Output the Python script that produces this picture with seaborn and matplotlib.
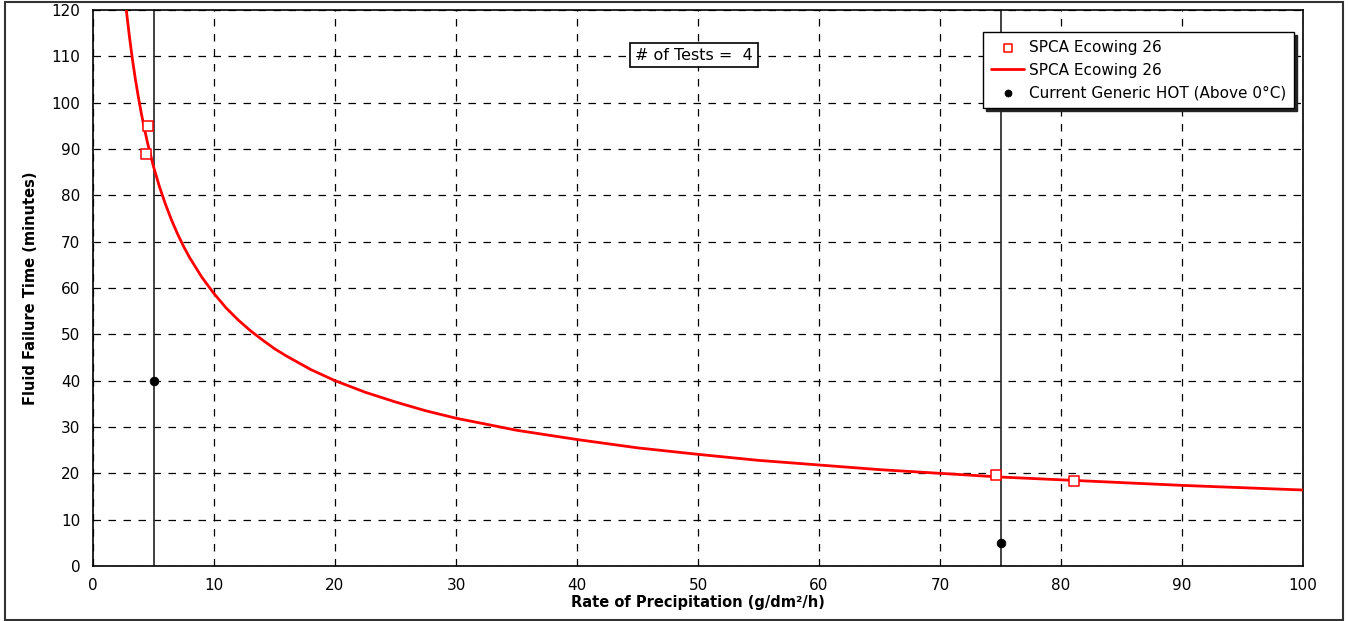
import matplotlib
matplotlib.use("Agg")
import matplotlib.pyplot as plt
import seaborn as sns
import pandas as pd
from matplotlib.patches import Rectangle

# trend curve, values
curve_x = [2.6, 2.8, 3, 3.25, 3.5, 3.75, 4, 4.25, 4.5, 5, 5.5, 6, 6.5, 7, 7.5, 8,
           9, 10, 11, 12, 13, 14, 15, 16, 18, 20, 22.5, 25, 27.5, 30, 35, 40,
           45, 50, 55, 60, 65, 70, 75, 80, 85, 90, 95, 100]
curve_y = [123.9, 118.9, 114.5, 109.5, 105.1, 101.2, 97.6, 94.4, 91.4, 86.2,
           81.8, 78.0, 74.6, 71.6, 68.9, 66.5, 62.3, 58.8, 55.7, 53.1, 50.8,
           48.8, 46.9, 45.3, 42.4, 40.0, 37.5, 35.4, 33.5, 31.9, 29.3, 27.3,
           25.5, 24.1, 22.8, 21.8, 20.8, 20.0, 19.2, 18.6, 18.0, 17.4, 16.9, 16.4]

# test points
test_x = [4.55, 4.4, 74.6, 81.1]
test_y = [95.0, 89.0, 19.6, 18.3]

# current generic HOT
hot_x = [5, 75]
hot_y = [40, 5]

n_tests = 4

sns.set_style("white")
plt.rcParams['font.family'] = ['DejaVu Sans']
plt.rcParams['text.color'] = 'black'
plt.rcParams['axes.labelcolor'] = 'black'
plt.rcParams['xtick.color'] = 'black'
plt.rcParams['ytick.color'] = 'black'

fig = plt.figure(figsize=(13.48, 6.21), dpi=100)
ax = fig.add_axes([93 / 1348, 1 - 566 / 621, 1210 / 1348, 556 / 621])

# vertical reference lines
for xv in hot_x:
    ax.axvline(xv, color='#333333', lw=1.3, zorder=2)

ax.grid(True, color='black', lw=0.9, linestyle=(0, (6, 6)), zorder=1)
ax.set_axisbelow(True)

curve = pd.DataFrame({'x': curve_x, 'y': curve_y})
tests = pd.DataFrame({'x': test_x, 'y': test_y})
hot = pd.DataFrame({'x': hot_x, 'y': hot_y})

sns.scatterplot(data=tests, x='x', y='y', ax=ax, marker='s', s=55,
                facecolor='white', edgecolor='red', linewidth=1.1,
                label='SPCA Ecowing 26', zorder=4)
sns.lineplot(data=curve, x='x', y='y', ax=ax, color='red', lw=2.0,
             label='SPCA Ecowing 26', zorder=3)
sns.scatterplot(data=hot, x='x', y='y', ax=ax, marker='o', s=40,
                color='black', edgecolor='black', label='Current Generic HOT (Above 0°C)',
                zorder=5)

ax.set_xlim(0, 100)
ax.set_ylim(0, 120)
ax.set_xticks(range(0, 101, 10))
ax.set_yticks(range(0, 121, 10))
ax.tick_params(axis='both', direction='out', length=5, width=1,
               labelsize=11, pad=4)
for s in ax.spines.values():
    s.set_color('black')
    s.set_linewidth(1.2)

ax.set_xlabel('Rate of Precipitation (g/dm²/h)', fontsize=10.5, fontweight='bold',
              labelpad=1)
ax.set_ylabel('Fluid Failure Time (minutes)', fontsize=10.5, fontweight='bold',
              labelpad=10)

ax.text(0.4967, 0.919, f'# of Tests =  {n_tests}', transform=ax.transAxes,
        ha='center', va='center', fontsize=11.5,
        bbox=dict(boxstyle='square,pad=0.3', facecolor='white', edgecolor='black', lw=1.2))

leg = ax.legend(loc='upper right', bbox_to_anchor=(0.9925, 0.96), frameon=True,
                fancybox=False, shadow={'color': '#222222', 'alpha': 1, 'ox': 2, 'oy': -2},
                fontsize=11, borderpad=0.5, labelspacing=0.5, handlelength=2.2,
                handletextpad=0.3, borderaxespad=0, markerscale=0.8)
leg.get_frame().set_edgecolor('black')
leg.get_frame().set_linewidth(1.0)

# outer border of the chart area
fig.patches.append(Rectangle((5 / 1348, 1 / 621), 1338 / 1348, 618 / 621,
                             transform=fig.transFigure, fill=False,
                             edgecolor='#333333', lw=1.5))

fig.savefig('out.png', dpi=100)
